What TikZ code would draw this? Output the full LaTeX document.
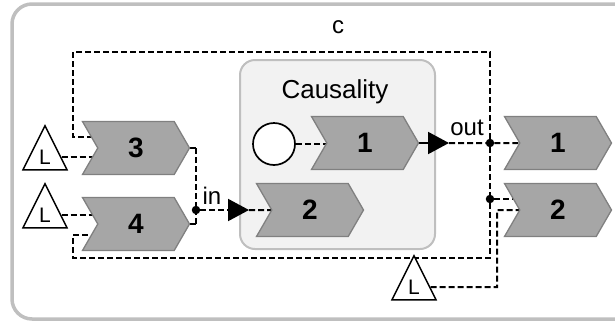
\documentclass[tikz,border=0pt]{standalone}
\usepackage{fontspec}
\setmainfont{Liberation Sans}
\usetikzlibrary{shapes.symbols,shapes.geometric,arrows.meta,calc}
\pgfdeclarelayer{back}
\pgfdeclarelayer{wires}
\pgfsetlayers{back,wires,main}

\begin{document}
\begin{tikzpicture}[x=1pt,y=-1pt,
  chev/.style={signal, signal from=west, signal to=east, signal pointer angle=120,
    draw=black!50, fill=black!35, line width=1.3pt, minimum width=107pt,
    minimum height=53pt, inner sep=0pt, font=\fontsize{28}{28}\selectfont\bfseries},
  ltri/.style={isosceles triangle, shape border rotate=90, isosceles triangle stretches,
    draw, fill=white, line width=1.5pt, minimum width=44pt, minimum height=44pt,
    inner sep=0pt, font=\fontsize{21}{21}\selectfont},
  conn/.style={line width=2pt, dash pattern=on 6pt off 3pt},
  wire/.style={line width=2pt},
  dot/.style={circle, fill, inner sep=0pt, minimum size=8.5pt},
  lab/.style={font=\fontsize{24}{24}\selectfont, anchor=base},
  tip/.style={-{Triangle[length=21pt,width=22pt]}}]
\useasboundingbox (0,0) rectangle (615,322);

% blocks
\node[chev] (c3) at (136,148) {3};
\node[chev] (c4) at (136,224) {4};
\node[chev] (k1) at (365,143) {1};
\node[chev] (k2) at (310,210) {2};
\node[chev] (r1) at (558,143) {1};
\node[chev] (r2) at (558,210) {2};
\node[ltri] (l1) at (45,157) {L};
\node[ltri] (l2) at (45,215) {L};
\node[ltri] (l3) at (414,287) {L};
\node[circle, draw, fill=white, line width=1.7pt, minimum size=42pt, inner sep=0pt] (src) at (274,144) {};
\node[dot] (jin) at (196,210) {};
\node[dot] (jout) at (490,143) {};
\node[dot] (jc) at (490,199) {};
\coordinate (ain) at (249,210);
\coordinate (aout) at (449,143);
\coordinate (tl) at (73,52);
\coordinate (bl) at (73,258);

\node[lab] (cl) at (338,33) {c};
\node[lab] (inl) at (212,204) {in};
\node[lab] (outl) at (467,135) {out};

\begin{pgfonlayer}{back}
\draw[black!25, line width=3.5pt, rounded corners=20pt] (12,4) rectangle (640,319);
\node[draw=black!25, fill=black!5, line width=2pt, rounded corners=15pt,
  minimum width=195pt, minimum height=189pt] (causal) at (337.5,154.5) {};
\node[font=\fontsize{26}{26}\selectfont, anchor=base] (ctitle) at (335,98) {Causality};
\end{pgfonlayer}

\begin{pgfonlayer}{wires}
\draw[conn] (l1) -- (l1 -| c3);
\draw[conn] (l2) -- (l2 -| c4);
\draw[wire] (c3.east) -- (c3.east -| jin);
\draw[conn] (c3.east -| jin) -- (jin);
\draw[wire] (c4.east) -- (c4.east -| jin);
\draw[conn] (c4.east -| jin) -- (jin);
\draw[conn, tip] (jin) -- (ain);
\draw[conn] (ain) -- (k2);
\draw[conn] (src) -- (src -| k1);
\draw[wire, tip] (k1.east) -- (aout);
\draw[conn] (aout) -- (jout) -- (r1);
\draw[conn] (jout) -- (jc);
\draw[conn] (jout) |- (tl) |- ($(c3)+(0,-11)$);
\draw[conn] (jc) |- (bl) |- ($(c4)+(0,11)$);
\draw[conn] (jc) -- (jc -| r2);
\draw[conn] (l3) -| ($(r2)+(-61,0)$) -- (r2);
\end{pgfonlayer}
\end{tikzpicture}
\end{document}
